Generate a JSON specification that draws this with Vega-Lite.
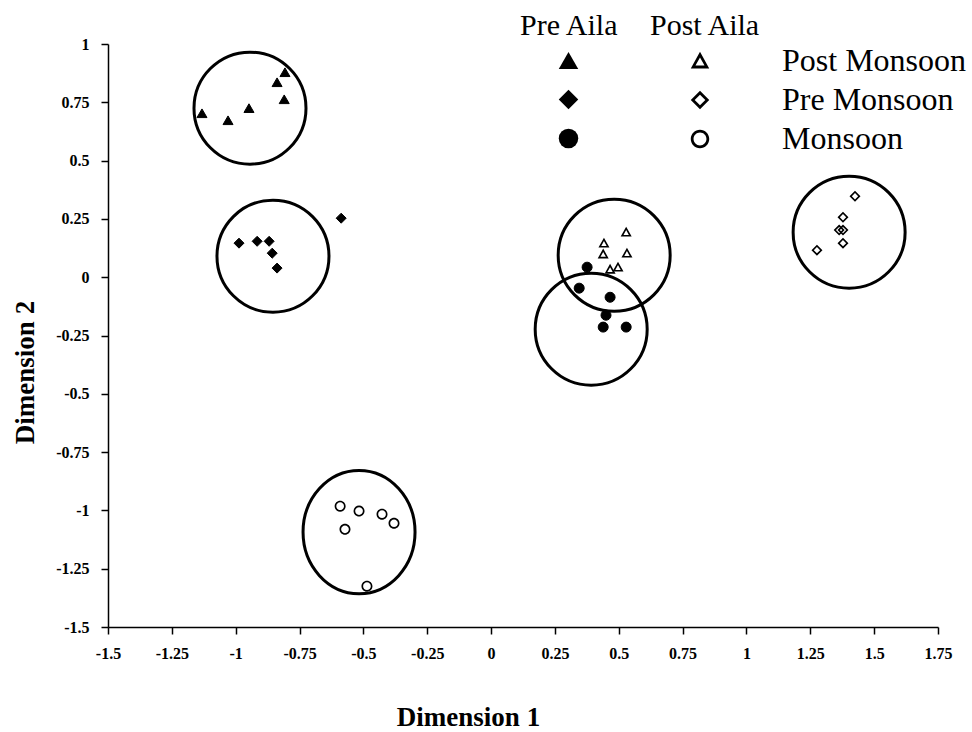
{
  "$schema": "https://vega.github.io/schema/vega-lite/v6.json",
  "width": 830,
  "height": 583,
  "autosize": {"type": "none"},
  "padding": {"left": 108, "top": 44, "right": 34, "bottom": 105},
  "background": "white",
  "config": {
    "view": {"stroke": null},
    "font": "Liberation Serif"
  },
  "datasets": {
    "rings": [
      {"cx": -0.944, "cy": 0.725, "cluster": "Pre Aila Post Monsoon"},
      {"cx": -0.854, "cy": 0.090, "cluster": "Pre Aila Pre Monsoon"},
      {"cx": 0.482, "cy": 0.094, "cluster": "Post Aila Post Monsoon"},
      {"cx": 0.392, "cy": -0.223, "cluster": "Pre Aila Monsoon"},
      {"cx": 1.402, "cy": 0.193, "cluster": "Post Aila Pre Monsoon"}
    ],
    "ellipse": [
      {"cx": -0.517, "cy": -1.093, "cluster": "Post Aila Monsoon"}
    ],
    "points": [
      {"x": -1.132, "y": 0.703, "aila": "Pre Aila", "season": "Post Monsoon"},
      {"x": -1.030, "y": 0.673, "aila": "Pre Aila", "season": "Post Monsoon"},
      {"x": -0.948, "y": 0.725, "aila": "Pre Aila", "season": "Post Monsoon"},
      {"x": -0.838, "y": 0.836, "aila": "Pre Aila", "season": "Post Monsoon"},
      {"x": -0.807, "y": 0.879, "aila": "Pre Aila", "season": "Post Monsoon"},
      {"x": -0.810, "y": 0.763, "aila": "Pre Aila", "season": "Post Monsoon"},
      {"x": -0.987, "y": 0.146, "aila": "Pre Aila", "season": "Pre Monsoon"},
      {"x": -0.916, "y": 0.154, "aila": "Pre Aila", "season": "Pre Monsoon"},
      {"x": -0.869, "y": 0.154, "aila": "Pre Aila", "season": "Pre Monsoon"},
      {"x": -0.857, "y": 0.103, "aila": "Pre Aila", "season": "Pre Monsoon"},
      {"x": -0.838, "y": 0.039, "aila": "Pre Aila", "season": "Pre Monsoon"},
      {"x": -0.587, "y": 0.253, "aila": "Pre Aila", "season": "Pre Monsoon"},
      {"x": 0.376, "y": 0.043, "aila": "Pre Aila", "season": "Monsoon"},
      {"x": 0.345, "y": -0.047, "aila": "Pre Aila", "season": "Monsoon"},
      {"x": 0.466, "y": -0.086, "aila": "Pre Aila", "season": "Monsoon"},
      {"x": 0.450, "y": -0.163, "aila": "Pre Aila", "season": "Monsoon"},
      {"x": 0.439, "y": -0.214, "aila": "Pre Aila", "season": "Monsoon"},
      {"x": 0.529, "y": -0.214, "aila": "Pre Aila", "season": "Monsoon"},
      {"x": 0.529, "y": 0.193, "aila": "Post Aila", "season": "Post Monsoon"},
      {"x": 0.442, "y": 0.146, "aila": "Post Aila", "season": "Post Monsoon"},
      {"x": 0.439, "y": 0.099, "aila": "Post Aila", "season": "Post Monsoon"},
      {"x": 0.532, "y": 0.103, "aila": "Post Aila", "season": "Post Monsoon"},
      {"x": 0.466, "y": 0.034, "aila": "Post Aila", "season": "Post Monsoon"},
      {"x": 0.497, "y": 0.043, "aila": "Post Aila", "season": "Post Monsoon"},
      {"x": 1.425, "y": 0.347, "aila": "Post Aila", "season": "Pre Monsoon"},
      {"x": 1.378, "y": 0.257, "aila": "Post Aila", "season": "Pre Monsoon"},
      {"x": 1.363, "y": 0.202, "aila": "Post Aila", "season": "Pre Monsoon"},
      {"x": 1.378, "y": 0.202, "aila": "Post Aila", "season": "Pre Monsoon"},
      {"x": 1.378, "y": 0.146, "aila": "Post Aila", "season": "Pre Monsoon"},
      {"x": 1.276, "y": 0.116, "aila": "Post Aila", "season": "Pre Monsoon"},
      {"x": -0.591, "y": -0.982, "aila": "Post Aila", "season": "Monsoon"},
      {"x": -0.517, "y": -1.003, "aila": "Post Aila", "season": "Monsoon"},
      {"x": -0.427, "y": -1.016, "aila": "Post Aila", "season": "Monsoon"},
      {"x": -0.380, "y": -1.055, "aila": "Post Aila", "season": "Monsoon"},
      {"x": -0.572, "y": -1.081, "aila": "Post Aila", "season": "Monsoon"},
      {"x": -0.486, "y": -1.325, "aila": "Post Aila", "season": "Monsoon"}
    ]
  },
  "encoding": {
    "x": {
      "type": "quantitative",
      "scale": {"domain": [-1.5, 1.75], "nice": false, "zero": false},
      "axis": {
        "title": "Dimension 1",
        "values": [-1.5, -1.25, -1, -0.75, -0.5, -0.25, 0, 0.25, 0.5, 0.75, 1, 1.25, 1.5, 1.75],
        "labelExpr": "'' + datum.value",
        "grid": false,
        "domainColor": "black",
        "domainWidth": 1.5,
        "tickColor": "black",
        "tickWidth": 1.5,
        "tickSize": 7,
        "labelFont": "Liberation Serif",
        "labelFontWeight": "bold",
        "labelFontSize": 16,
        "labelColor": "black",
        "labelPadding": 11,
        "labelFlush": false,
        "titleFont": "Liberation Serif",
        "titleFontWeight": "bold",
        "titleFontSize": 27,
        "titleColor": "black",
        "titleX": 360,
        "titleY": 98,
        "titleAnchor": null,
        "titleAlign": "center",
        "titleBaseline": "alphabetic"
      }
    },
    "y": {
      "type": "quantitative",
      "scale": {"domain": [-1.5, 1], "nice": false, "zero": false},
      "axis": {
        "title": "Dimension 2",
        "values": [-1.5, -1.25, -1, -0.75, -0.5, -0.25, 0, 0.25, 0.5, 0.75, 1],
        "labelExpr": "'' + datum.value",
        "grid": false,
        "domainColor": "black",
        "domainWidth": 1.5,
        "tickColor": "black",
        "tickWidth": 1.5,
        "tickSize": 7,
        "labelFont": "Liberation Serif",
        "labelFontWeight": "bold",
        "labelFontSize": 16,
        "labelColor": "black",
        "labelPadding": 12,
        "labelFlush": false,
        "titleFont": "Liberation Serif",
        "titleFontWeight": "bold",
        "titleFontSize": 27,
        "titleColor": "black",
        "titleX": -83,
        "titleY": 328,
        "titleAngle": -90,
        "titleAnchor": null,
        "titleAlign": "center",
        "titleBaseline": "middle"
      }
    }
  },
  "layer": [
    {
      "data": {"name": "rings"},
      "mark": {"type": "point", "shape": "circle", "size": 12544, "filled": false, "stroke": "black", "strokeWidth": 3, "opacity": 1},
      "encoding": {
        "x": {"field": "cx", "type": "quantitative"},
        "y": {"field": "cy", "type": "quantitative"}
      }
    },
    {
      "data": {"name": "ellipse"},
      "mark": {"type": "point", "shape": "M-1,0A1,1.1,0,1,1,1,0A1,1.1,0,1,1,-1,0Z", "size": 12544, "filled": false, "stroke": "black", "strokeWidth": 3, "opacity": 1},
      "encoding": {
        "x": {"field": "cx", "type": "quantitative"},
        "y": {"field": "cy", "type": "quantitative"}
      }
    },
    {
      "data": {"name": "points"},
      "transform": [{"filter": "datum.aila == 'Pre Aila'"}],
      "mark": {"type": "point", "filled": true, "color": "black", "stroke": "black", "strokeWidth": 1, "opacity": 1, "size": 100},
      "encoding": {
        "x": {"field": "x", "type": "quantitative"},
        "y": {"field": "y", "type": "quantitative"},
        "shape": {
          "field": "season",
          "type": "nominal",
          "scale": {
            "domain": ["Post Monsoon", "Pre Monsoon", "Monsoon"],
            "range": ["triangle-up", "diamond", "circle"]
          },
          "legend": {
            "title": "Pre Aila",
            "orient": "none",
            "legendX": 412,
            "legendY": -33,
            "rowPadding": 7,
            "symbolSize": 380,
            "symbolOffset": 33,
            "symbolFillColor": "black",
            "symbolStrokeColor": "black",
            "symbolStrokeWidth": 1,
            "labelOffset": 67,
            "labelExpr": "''",
            "labelFont": "Liberation Serif",
            "labelFontSize": 31,
            "labelLimit": 400,
            "titleFont": "Liberation Serif",
            "titleFontWeight": "normal",
            "titleFontSize": 30,
            "titleColor": "black",
            "titlePadding": 4
          }
        }
      }
    },
    {
      "data": {"name": "points"},
      "transform": [{"filter": "datum.aila == 'Post Aila'"}],
      "mark": {"type": "point", "filled": true, "color": "white", "strokeWidth": 0, "opacity": 1, "size": 121},
      "encoding": {
        "x": {"field": "x", "type": "quantitative"},
        "y": {"field": "y", "type": "quantitative"},
        "shape": {
          "field": "season",
          "type": "nominal",
          "scale": {
            "domain": ["Post Monsoon", "Pre Monsoon", "Monsoon"],
            "range": [
              "M0,-1L1,0.8L-1,0.8Z",
              "M0,-1L1,0L0,1L-1,0Z",
              "M1,0A1,1,0,1,1,-1,0A1,1,0,1,1,1,0Z"
            ]
          },
          "legend": null
        }
      }
    },
    {
      "data": {"name": "points"},
      "transform": [{"filter": "datum.aila == 'Post Aila'"}],
      "mark": {"type": "point", "filled": true, "color": "black", "strokeWidth": 0, "opacity": 1, "size": 121},
      "encoding": {
        "x": {"field": "x", "type": "quantitative"},
        "y": {"field": "y", "type": "quantitative"},
        "shape": {
          "field": "season",
          "type": "nominal",
          "scale": {
            "domain": ["Post Monsoon", "Pre Monsoon", "Monsoon"],
            "range": [
              "M0,-1L1,0.8L-1,0.8ZM0,-0.382L-0.49,0.5L0.49,0.5Z",
              "M0,-1L1,0L0,1L-1,0ZM0,-0.576L-0.576,0L0,0.576L0.576,0Z",
              "M1,0A1,1,0,1,1,-1,0A1,1,0,1,1,1,0ZM0.7,0A0.7,0.7,0,1,0,-0.7,0A0.7,0.7,0,1,0,0.7,0Z"
            ]
          },
          "legend": {
            "title": "Post Aila",
            "orient": "none",
            "legendX": 542,
            "legendY": -33,
            "rowPadding": 7,
            "symbolSize": 340,
            "symbolOffset": 34,
            "symbolFillColor": "black",
            "symbolStrokeColor": "black",
            "symbolStrokeWidth": 0,
            "labelOffset": 66,
            "labelFont": "Liberation Serif",
            "labelFontSize": 32,
            "labelColor": "black",
            "labelLimit": 400,
            "titleFont": "Liberation Serif",
            "titleFontWeight": "normal",
            "titleFontSize": 30,
            "titleColor": "black",
            "titlePadding": 4
          }
        }
      }
    }
  ],
  "resolve": {"scale": {"shape": "independent"}, "legend": {"shape": "independent"}}
}
